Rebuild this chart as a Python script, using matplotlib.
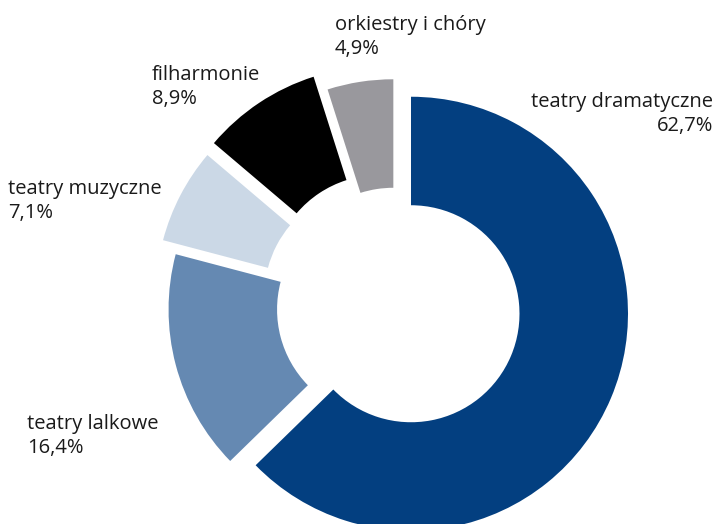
import matplotlib
matplotlib.use("Agg")
import matplotlib.pyplot as plt

# share of institutions, clockwise from 12 o'clock
categories = ["teatry dramatyczne", "teatry lalkowe", "teatry muzyczne",
              "filharmonie", "orkiestry i chóry"]
shares = [62.7, 16.4, 7.1, 8.9, 4.9]

colors = ["#033f80", "#6589b2", "#cbd8e6", "#000000", "#99989d"]
explode = [0.08, 0.045, 0.115, 0.13, 0.05]

# label anchor (pixels from top-left) and alignment
label_pos = [(713, 114, "right"), (27, 436, "left"), (8, 201, "left"),
             (152, 87, "left"), (335, 37, "left")]

W, H = 715, 524
R = 217.0
cx, cy = 395.0, 307.0

plt.rcParams["font.family"] = ["Open Sans", "DejaVu Sans"]

fig = plt.figure(figsize=(W / 100, H / 100), dpi=100)
ax = fig.add_axes([0, 0, 1, 1])
ax.pie(shares, colors=colors, explode=explode, startangle=90, counterclock=False,
       radius=1.0, wedgeprops=dict(width=0.5, edgecolor="none", linewidth=0))
ax.set_xlim(-cx / R, (W - cx) / R)
ax.set_ylim(-(H - cy) / R, cy / R)
ax.set_aspect("equal")
ax.axis("off")

for name, val, (x, y, ha) in zip(categories, shares, label_pos):
    txt = "{}\n{}%".format(name, "{:.1f}".format(val).replace(".", ","))
    fig.text(x / W, 1 - y / H, txt, ha=ha, va="center", fontsize=14.5,
             color="#1a1a1a", linespacing=1.3, multialignment=ha)

fig.savefig("out.png", dpi=100)
